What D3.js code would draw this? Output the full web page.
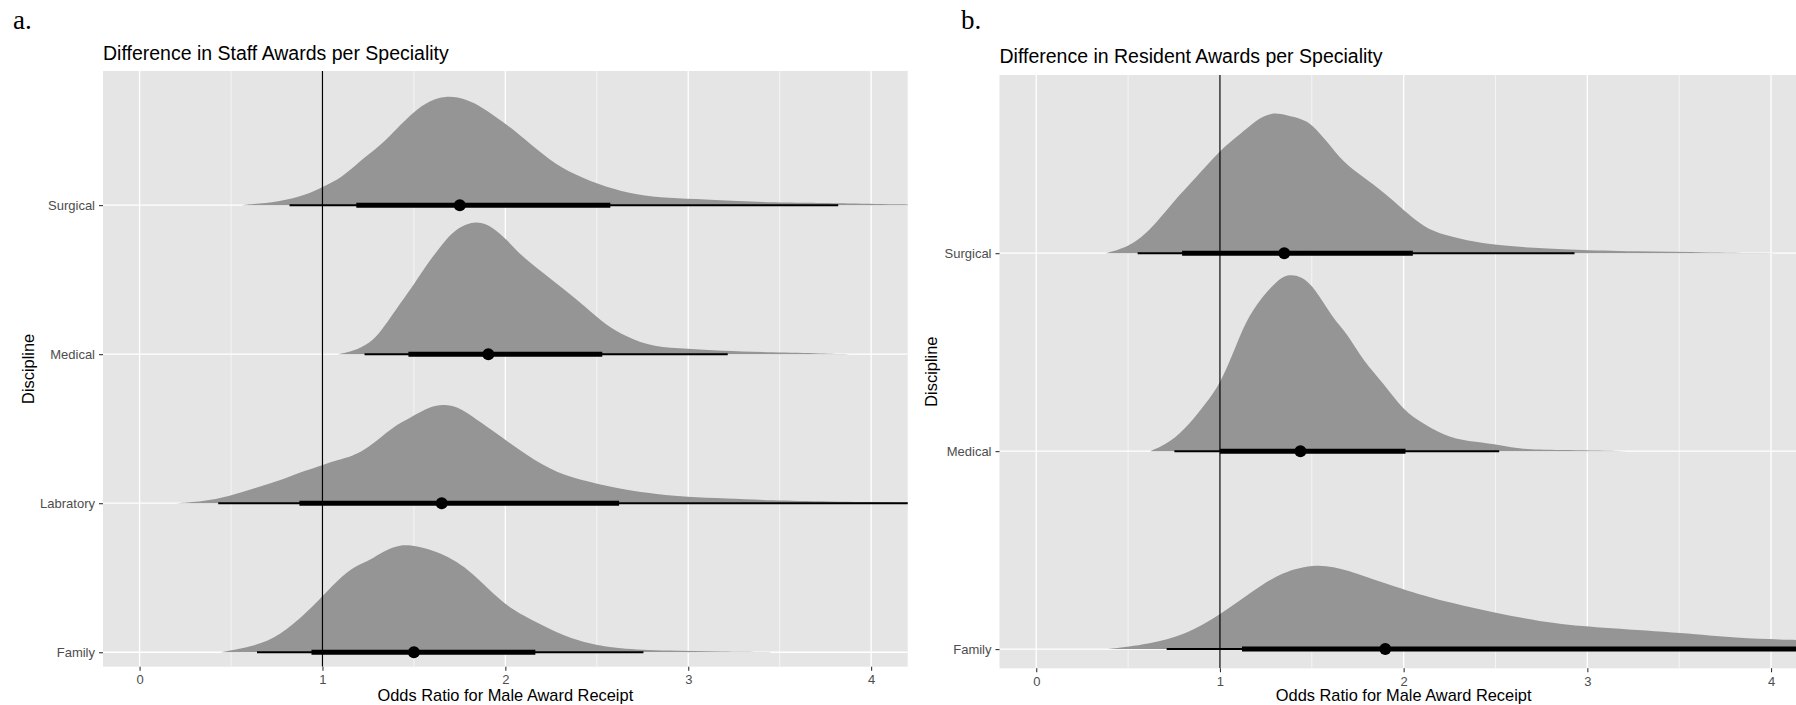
<!DOCTYPE html>
<html>
<head>
<meta charset="utf-8">
<script src="https://cdn.jsdelivr.net/npm/d3@7"></script>
<style>
  body { margin: 0; background: #fff; }
  svg { display: block; }
  .tick text { font-family: "Liberation Sans", Arial, sans-serif; font-size: 13px; fill: #4d4d4d; }
</style>
</head>
<body>
<svg id="chart" width="1796" height="705"></svg>
<script>
// ---- data ----
const xTicks = [0, 1, 2, 3, 4];
const xMinorTicks = [0.5, 1.5, 2.5, 3.5];
const refLine = 1;

const staffCategories = ["Surgical", "Medical", "Labratory", "Family"];
const residentCategories = ["Surgical", "Medical", "Family"];

// [odds ratio, relative density] (1 = tallest slab in the panel)
const staffSurgical = [[0.557,0],[0.77,.025],[0.91,.075],[1.0,.134],[1.11,.209],[1.19,.313],[1.32,.448],[1.41,.575],[1.48,.672],[1.56,.761],[1.67,.821],[1.79,.791],[1.87,.731],[1.99,.619],[2.10,.5],[2.24,.336],[2.38,.224],[2.55,.134],[2.72,.075],[2.89,.052],[3.09,.043],[3.32,.025],[3.68,.017],[3.85,.013],[4.2,.005],[4.3,.003]];
const staffMedical = [[1.086,0],[1.19,.03],[1.28,.104],[1.335,.2],[1.41,.351],[1.48,.478],[1.56,.649],[1.65,.813],[1.73,.94],[1.845,1.0],[1.93,.948],[2.01,.851],[2.10,.716],[2.21,.604],[2.325,.478],[2.44,.351],[2.55,.216],[2.665,.127],[2.81,.052],[3.0,.04],[3.17,.025],[3.46,.013],[3.74,.005],[3.88,0]];
const staffLabratory = [[0.198,0],[0.345,.013],[0.487,.05],[0.628,.112],[0.77,.169],[0.91,.246],[1.0,.284],[1.08,.321],[1.165,.351],[1.25,.41],[1.39,.575],[1.477,.634],[1.59,.724],[1.67,.739],[1.76,.709],[1.87,.597],[2.01,.463],[2.155,.321],[2.325,.201],[2.495,.149],[2.61,.112],[2.78,.075],[3.0,.043],[3.2,.037],[3.46,.02],[3.74,.013],[4.2,.005],[4.3,.004]];
const staffFamily = [[0.444,0],[0.628,.043],[0.77,.127],[0.91,.291],[1.0,.418],[1.11,.575],[1.19,.649],[1.26,.687],[1.335,.754],[1.42,.806],[1.53,.791],[1.646,.739],[1.73,.679],[1.82,.59],[1.93,.44],[2.04,.313],[2.18,.216],[2.325,.119],[2.467,.062],[2.61,.028],[2.89,.01],[3.17,.005],[3.51,0]];

const residentSurgical = [[0.378,0],[0.50,.034],[0.614,.118],[0.752,.298],[0.863,.416],[1.0,.579],[1.113,.669],[1.197,.747],[1.28,.792],[1.363,.775],[1.446,.753],[1.5,.725],[1.585,.624],[1.67,.511],[1.78,.427],[1.89,.343],[2.0,.242],[2.11,.146],[2.22,.101],[2.39,.062],[2.53,.043],[2.7,.03],[2.92,.019],[3.25,.01],[3.67,.004],[4.03,0]];
const residentMedical = [[0.62,0],[0.725,.045],[0.835,.152],[0.92,.264],[1.0,.376],[1.07,.545],[1.14,.73],[1.224,.86],[1.31,.955],[1.363,.994],[1.446,.983],[1.516,.916],[1.613,.747],[1.696,.657],[1.78,.506],[1.89,.382],[2.0,.225],[2.11,.152],[2.25,.073],[2.39,.052],[2.53,.034],[2.64,.01],[2.83,.007],[3.22,0]];
const residentFamily = [[0.39,0],[0.614,.028],[0.81,.079],[1.0,.191],[1.17,.32],[1.335,.433],[1.53,.483],[1.696,.444],[1.89,.371],[2.14,.287],[2.5,.202],[2.83,.14],[3.11,.118],[3.53,.09],[3.8,.062],[4.13,.051],[4.3,.045]];

// point estimate, 66% and 95% intervals
const staffPoints = [1.751, 1.907, 1.652, 1.50];
const staffInner = [[1.185, 2.574], [1.47, 2.53], [0.874, 2.622], [0.94, 2.164]];
const staffOuter = [[0.82, 3.82], [1.23, 3.216], [0.43, 4.5], [0.642, 2.755]];

const residentPoints = [1.35, 1.438, 1.90];
const residentInner = [[0.794, 2.05], [1.0, 2.01], [1.12, 4.5]];
const residentOuter = [[0.552, 2.93], [0.752, 2.52], [0.71, 4.5]];

const svg = d3.select('#chart');

const renderPanel = (cfg, idx) => {
    const { letter, title, categories, densities, points, inner, outer,
        left, right, top, bottom, titleY, letterX, yTitleX } = cfg;
    const n = categories.length;

    const x = d3.scaleLinear().domain([-0.2, 4.2]).range([left, right]);
    const y = d3.scaleLinear().domain([0.903, n + 0.9]).range([bottom, top]);
    const level = i => n - i;   // first category sits highest

    const clipId = `clip-${idx}`;
    svg.append('clipPath').attr('id', clipId)
        .append('rect')
        .attr('x', left).attr('y', top)
        .attr('width', right - left).attr('height', bottom - top);

    svg.append('rect')
        .attr('x', left).attr('y', top)
        .attr('width', right - left).attr('height', bottom - top)
        .attr('fill', '#e5e5e5');

    const g = svg.append('g').attr('clip-path', `url(#${clipId})`);

    g.selectAll('.minor').data(xMinorTicks).join('line')
        .attr('x1', d => x(d)).attr('x2', d => x(d))
        .attr('y1', top).attr('y2', bottom)
        .attr('stroke', '#fff').attr('stroke-width', 0.6);

    g.selectAll('.major').data(xTicks).join('line')
        .attr('x1', d => x(d)).attr('x2', d => x(d))
        .attr('y1', top).attr('y2', bottom)
        .attr('stroke', '#fff').attr('stroke-width', 1.3);

    g.selectAll('.hmajor').data(categories).join('line')
        .attr('x1', left).attr('x2', right)
        .attr('y1', (d, i) => y(level(i))).attr('y2', (d, i) => y(level(i)))
        .attr('stroke', '#fff').attr('stroke-width', 1.3);

    densities.forEach((dens, i) => {
        const base = level(i);
        g.append('path')
            .datum(dens)
            .attr('fill', '#959595')
            .attr('d', d3.area()
                .x(d => x(d[0]))
                .y0(y(base))
                .y1(d => y(base + 0.9 * d[1]))
                .curve(d3.curveBasis));
    });

    g.append('line')
        .attr('x1', x(refLine)).attr('x2', x(refLine))
        .attr('y1', top).attr('y2', bottom)
        .attr('stroke', '#000').attr('stroke-width', 1.2);

    categories.forEach((c, i) => {
        const yy = y(level(i));
        g.append('line')
            .attr('x1', x(outer[i][0])).attr('x2', x(outer[i][1]))
            .attr('y1', yy).attr('y2', yy)
            .attr('stroke', '#000').attr('stroke-width', 2);
        g.append('line')
            .attr('x1', x(inner[i][0])).attr('x2', x(inner[i][1]))
            .attr('y1', yy).attr('y2', yy)
            .attr('stroke', '#000').attr('stroke-width', 5);
        g.append('circle')
            .attr('cx', x(points[i])).attr('cy', yy)
            .attr('r', 6).attr('fill', '#000');
    });

    const xAxis = svg.append('g')
        .attr('transform', `translate(0,${bottom})`)
        .call(d3.axisBottom(x).tickValues(xTicks).tickSize(4).tickPadding(4.5).tickFormat(d3.format('d')));
    xAxis.select('.domain').remove();
    xAxis.selectAll('.tick line').attr('stroke', '#333').attr('stroke-width', 1.1);

    const yAxis = svg.append('g')
        .attr('transform', `translate(${left},0)`)
        .call(d3.axisLeft(y)
            .tickValues(d3.range(1, n + 1))
            .tickFormat(v => categories[n - v])
            .tickSize(4).tickPadding(4));
    yAxis.select('.domain').remove();
    yAxis.selectAll('.tick line').attr('stroke', '#333').attr('stroke-width', 1.1);

    svg.append('text')
        .attr('x', left).attr('y', titleY)
        .attr('font-family', '"Liberation Sans", Arial, sans-serif')
        .attr('font-size', 19.5)
        .attr('fill', '#000')
        .text(title);

    svg.append('text')
        .attr('x', letterX).attr('y', 29)
        .attr('font-family', '"Liberation Serif", "Times New Roman", serif')
        .attr('font-size', 27)
        .attr('fill', '#000')
        .text(letter);

    svg.append('text')
        .attr('x', (x(-0.2) + x(4.2)) / 2)
        .attr('y', 701)
        .attr('text-anchor', 'middle')
        .attr('font-family', '"Liberation Sans", Arial, sans-serif')
        .attr('font-size', 16.4)
        .attr('fill', '#000')
        .text('Odds Ratio for Male Award Receipt');

    svg.append('text')
        .attr('transform', `translate(${yTitleX},${(top + bottom) / 2}) rotate(-90)`)
        .attr('text-anchor', 'middle')
        .attr('font-family', '"Liberation Sans", Arial, sans-serif')
        .attr('font-size', 16.4)
        .attr('fill', '#000')
        .text('Discipline');
};

renderPanel({
    letter: 'a.', title: 'Difference in Staff Awards per Speciality',
    categories: staffCategories,
    densities: [staffSurgical, staffMedical, staffLabratory, staffFamily],
    points: staffPoints, inner: staffInner, outer: staffOuter,
    left: 103, right: 907.7, top: 71, bottom: 666.7,
    titleY: 59.5, letterX: 13, yTitleX: 33.5
}, 0);

renderPanel({
    letter: 'b.', title: 'Difference in Resident Awards per Speciality',
    categories: residentCategories,
    densities: [residentSurgical, residentMedical, residentFamily],
    points: residentPoints, inner: residentInner, outer: residentOuter,
    left: 999.5, right: 1807.8, top: 75, bottom: 668.3,
    titleY: 62.5, letterX: 961, yTitleX: 937
}, 1);
</script>
</body>
</html>
